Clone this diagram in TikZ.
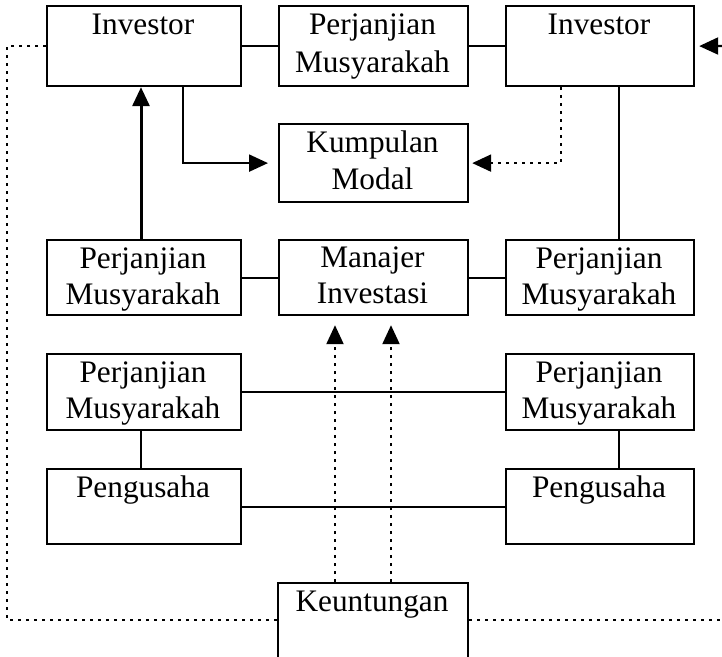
\documentclass[tikz,border=0pt]{standalone}
\usepackage{fontspec}
\setmainfont{Liberation Serif}
\usetikzlibrary{arrows.meta,calc}
\begin{document}
\begin{tikzpicture}[x=1pt,y=-1pt,
  box/.style={draw, line width=2.2pt, inner sep=0pt, anchor=north west},
  txt/.style={inner sep=0pt, anchor=base, font=\fontsize{31.3}{37}\selectfont},
  conn/.style={line width=2.2pt},
  tip/.style={-{Triangle[length=19pt,width=17pt]}},
  dotline/.style={line width=2.2pt, dash pattern=on 3pt off 5pt}]
\useasboundingbox (0,0) rectangle (722,656);
% boxes
\node[box, minimum width=194, minimum height=80] (invL) at (46,5) {};
\node[box, minimum width=189, minimum height=80] (perjT) at (278,5) {};
\node[box, minimum width=188, minimum height=80] (invR) at (505,5) {};
\node[box, minimum width=189, minimum height=78] (kump) at (278,123) {};
\node[box, minimum width=194, minimum height=75] (perjL2) at (46,239) {};
\node[box, minimum width=189, minimum height=75] (mana) at (278,239) {};
\node[box, minimum width=188, minimum height=75] (perjR2) at (505,239) {};
\node[box, minimum width=194, minimum height=76] (perjL3) at (46,353) {};
\node[box, minimum width=188, minimum height=76] (perjR3) at (505,353) {};
\node[box, minimum width=194, minimum height=75] (pengL) at (46,468) {};
\node[box, minimum width=188, minimum height=75] (pengR) at (505,468) {};
\node[box, minimum width=190, minimum height=86] (keun) at (277,582) {};
% texts
\node[txt] (t1) at (143,34) {Investor};
\node[txt] (t2a) at (372.5,34) {Perjanjian};
\node[txt] (t2b) at (372.5,72) {Musyarakah};
\node[txt] (t3) at (599,34) {Investor};
\node[txt] (t4a) at (372.5,152) {Kumpulan};
\node[txt] (t4b) at (372.5,189) {Modal};
\node[txt] (t5a) at (143,268) {Perjanjian};
\node[txt] (t5b) at (143,304) {Musyarakah};
\node[txt] (t6a) at (372.5,267) {Manajer};
\node[txt] (t6b) at (372.5,303) {Investasi};
\node[txt] (t7a) at (599,268) {Perjanjian};
\node[txt] (t7b) at (599,304) {Musyarakah};
\node[txt] (t8a) at (143,382) {Perjanjian};
\node[txt] (t8b) at (143,418) {Musyarakah};
\node[txt] (t9a) at (599,382) {Perjanjian};
\node[txt] (t9b) at (599,418) {Musyarakah};
\node[txt] (t10) at (143,497) {Pengusaha};
\node[txt] (t11) at (599,497) {Pengusaha};
\node[txt] (t12) at (372,611) {Keuntungan};
% coordinates
\coordinate (lp) at (7,620);
\coordinate (rp) at (722,620);
\coordinate (ra) at (722,46);
\coordinate (d1) at (335,582);
\coordinate (d2) at (391,582);
% solid connectors
\draw[conn] (invL) -- (perjT);
\draw[conn] (perjT) -- (invR);
\draw[conn] (perjL2) -- (mana);
\draw[conn] (mana) -- (perjR2);
\draw[conn] (perjL3) -- (perjR3);
\draw[conn] (pengL) -- (pengR);
\draw[conn] ([xshift=114]invR.south west) -- ([xshift=114]perjR2.north west);
\draw[conn] ([xshift=95]perjL3.south west) -- ([xshift=95]pengL.north west);
\draw[conn] ([xshift=114]perjR3.south west) -- ([xshift=114]pengR.north west);
% arrows
\draw[line width=3pt, tip] ([xshift=95]perjL2.north west) -- ([xshift=95]invL.south west);
\draw[conn, tip, shorten >=10pt] ([xshift=137]invL.south west) |- (kump.west);
\draw[conn, tip, shorten >=4pt] (ra) -- (invR.east);
% dotted
\draw[dotline, tip, shorten >=3pt] ([xshift=56]invR.south west) |- (kump.east);
\draw[dotline, tip, shorten >=9pt] (d1) -- (d1 |- mana.south);
\draw[dotline, tip, shorten >=9pt] (d2) -- (d2 |- mana.south);
\draw[dotline] (invL.west) -| (lp) -- (lp -| keun.west);
\draw[dotline] (lp -| keun.east) -- (rp);
\end{tikzpicture}
\end{document}
